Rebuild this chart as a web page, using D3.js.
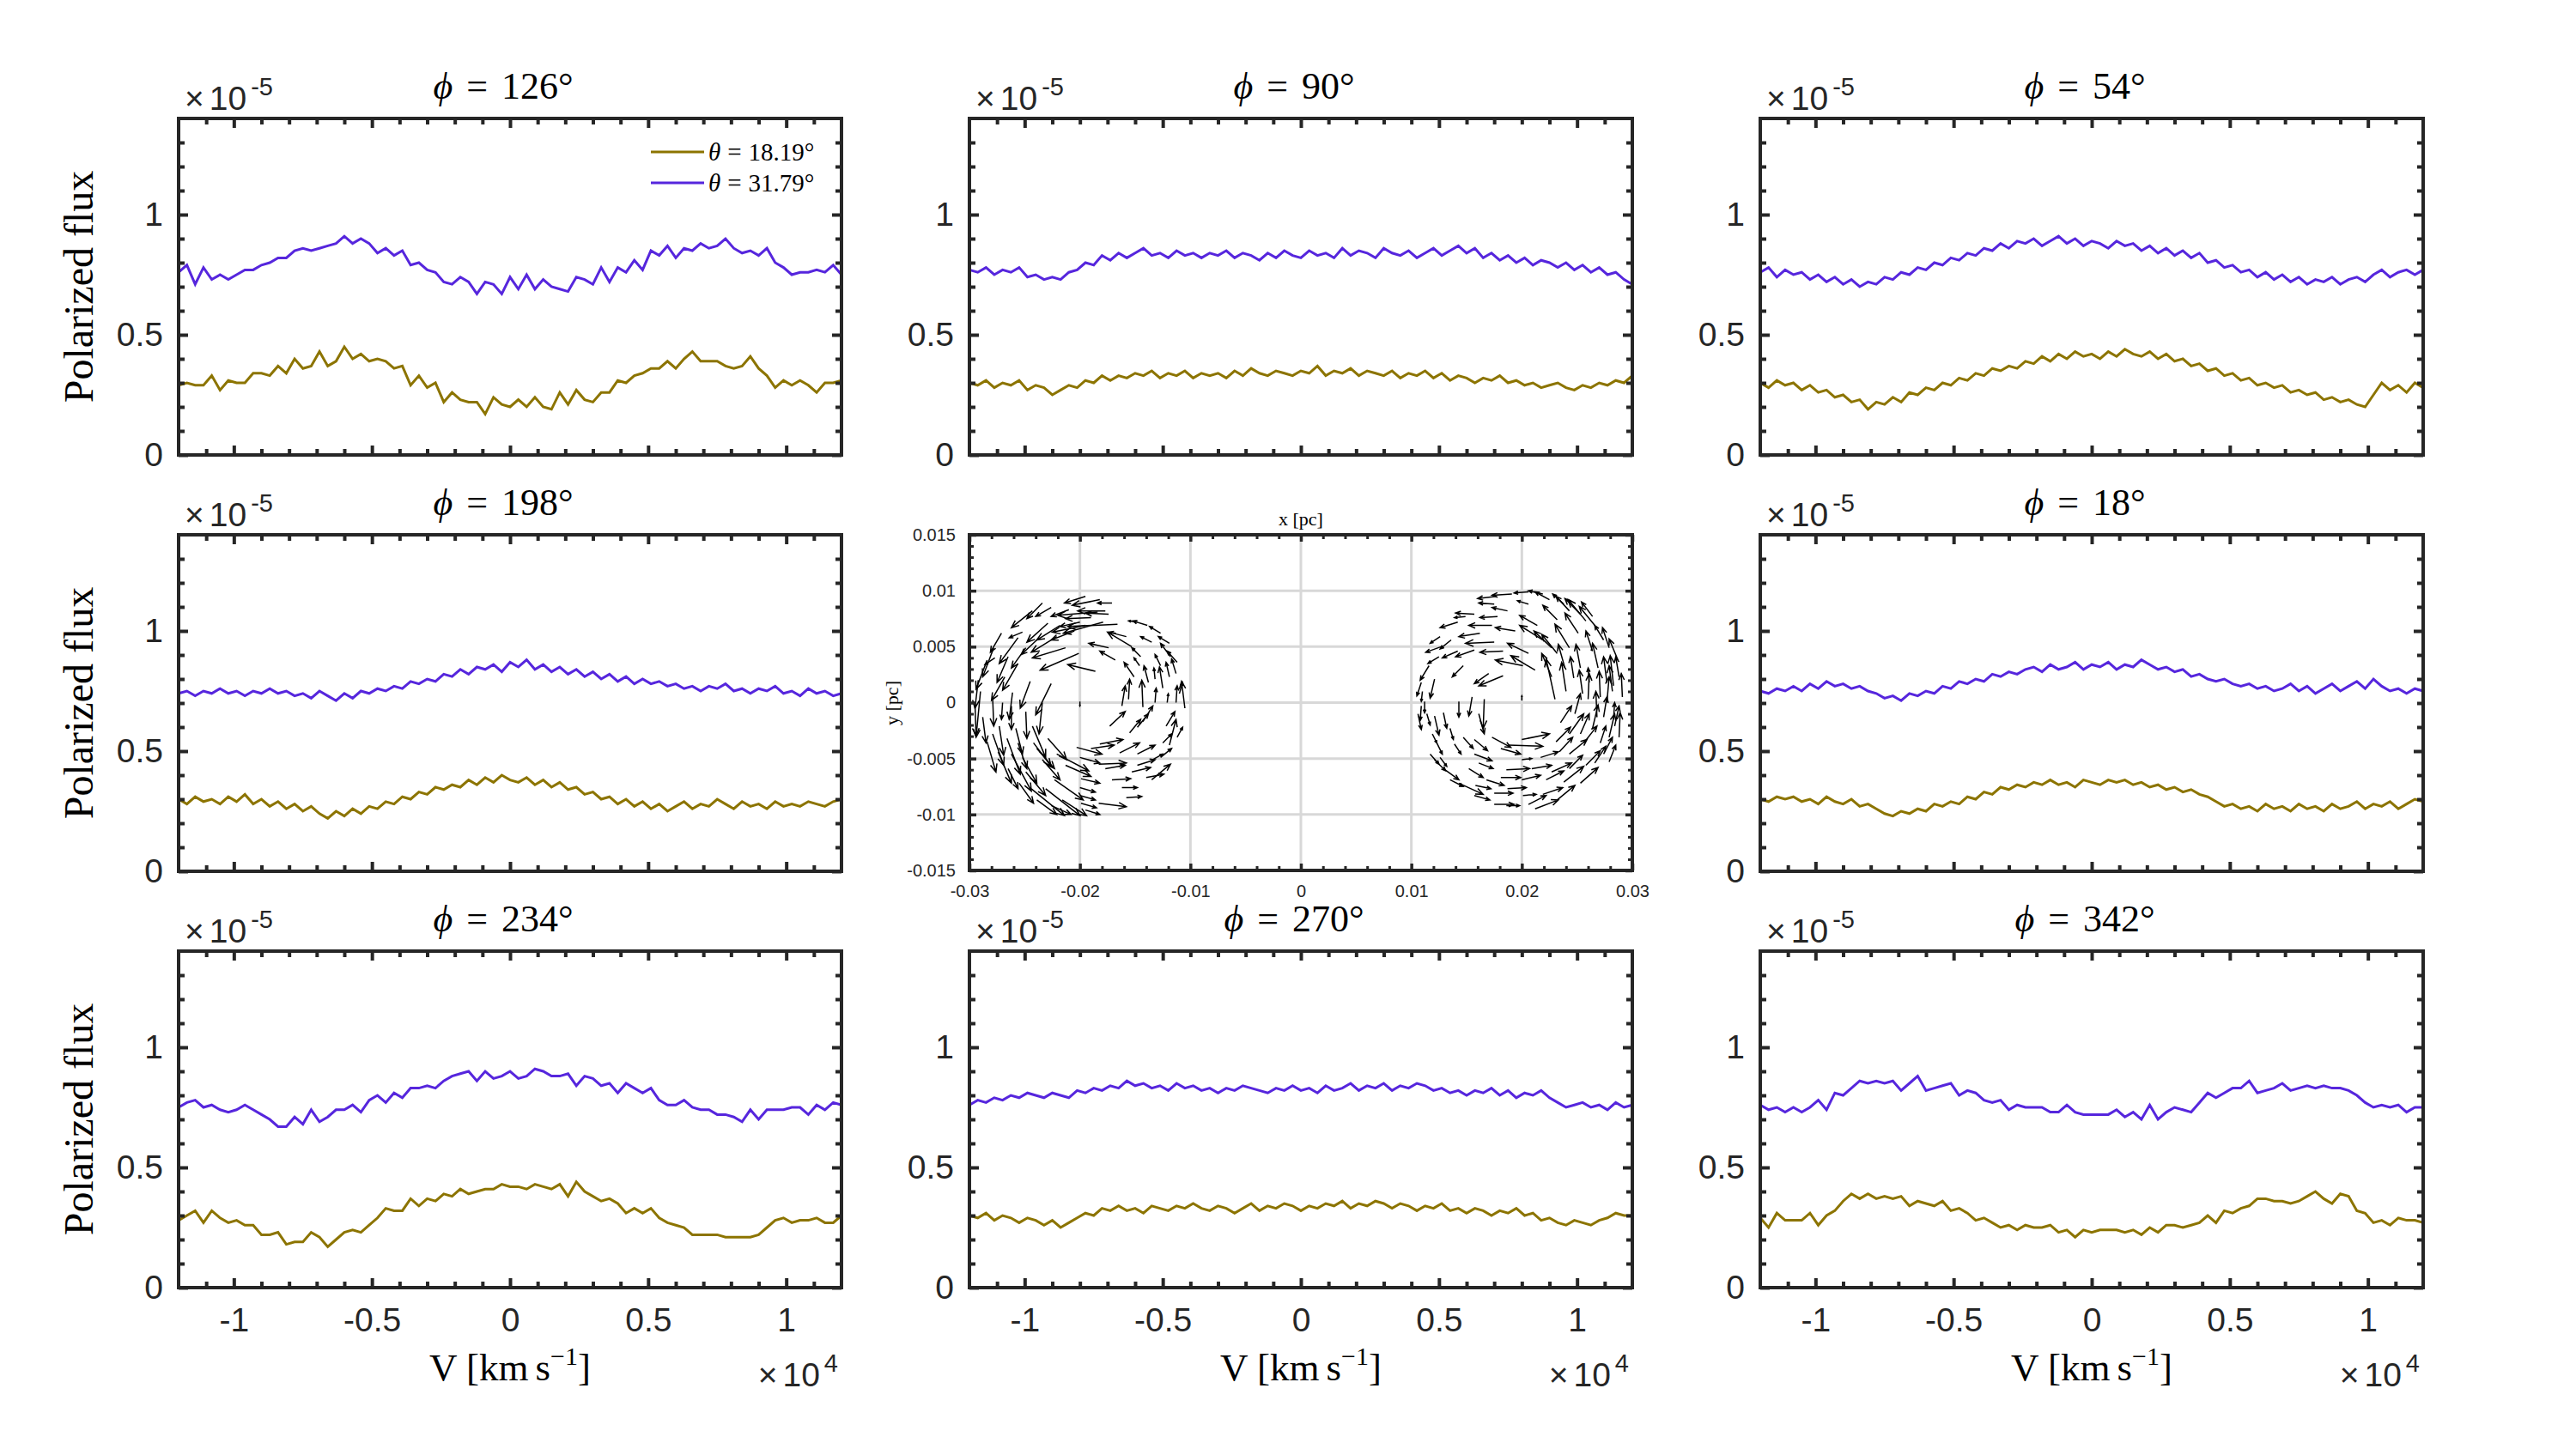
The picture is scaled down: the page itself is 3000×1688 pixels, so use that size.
<!DOCTYPE html>
<html>
<head>
<meta charset="utf-8">
<title>Polarized flux</title>
<script src="https://cdn.jsdelivr.net/npm/d3@7"></script>
<style>
  body { margin: 0; background: #fff; }
  .tex { font-family: "Liberation Serif", "DejaVu Serif", serif; }
</style>
</head>
<body>
<svg id="chart" width="3000" height="1688"></svg>
<script>
// velocity grid (km/s) and polarized flux in units of 1e-7
const velocity = [-12000,-11700,-11400,-11100,-10800,-10500,-10200,-9900,-9600,-9300,-9000,-8700,-8400,-8100,-7800,-7500,-7200,-6900,-6600,-6300,-6000,-5700,-5400,-5100,-4800,-4500,-4200,-3900,-3600,-3300,-3000,-2700,-2400,-2100,-1800,-1500,-1200,-900,-600,-300,0,300,600,900,1200,1500,1800,2100,2400,2700,3000,3300,3600,3900,4200,4500,4800,5100,5400,5700,6000,6300,6600,6900,7200,7500,7800,8100,8400,8700,9000,9300,9600,9900,10200,10500,10800,11100,11400,11700,12000];

const olive126 = [29,30,29,29,33,27,31,30,30,34,34,33,37,34,40,36,37,43,37,39,45,40,42,39,40,39,36,37,29,33,28,30,22,26,23,22,22,17,24,21,20,23,20,24,20,19,26,21,27,23,22,26,26,31,30,33,34,36,36,39,36,40,43,39,39,39,37,36,37,41,36,33,28,31,29,31,29,26,30,30,31];
const purple126 = [76,79,71,78,73,75,73,75,77,77,79,80,82,82,85,86,85,86,87,88,91,88,90,88,84,86,83,85,79,80,77,76,72,71,74,72,67,72,71,67,74,69,75,69,73,70,69,68,74,73,71,78,72,78,76,81,77,85,83,87,82,86,85,88,86,87,90,86,84,85,83,86,80,78,75,76,76,77,76,79,75];
const olive90 = [30,29,31,28,30,29,31,27,29,28,25,27,29,28,31,30,33,31,33,32,34,33,35,32,34,33,35,32,34,33,34,32,35,33,36,34,33,35,34,33,35,34,37,33,35,34,36,33,35,34,33,35,32,34,33,35,32,34,31,33,32,30,32,31,33,30,31,29,30,28,29,30,28,27,29,28,30,29,31,30,33];
const purple90 = [77,76,78,75,77,76,78,74,75,73,74,73,76,77,80,79,83,81,84,82,84,86,83,84,82,85,83,84,82,84,83,85,82,84,83,81,84,82,85,83,82,85,83,84,82,86,83,85,84,82,86,84,83,85,82,84,86,83,85,87,84,86,82,84,81,83,80,82,79,81,80,78,80,77,79,76,78,75,76,73,71];
const olive54 = [30,28,31,29,30,27,29,26,27,24,25,22,23,19,22,21,24,22,26,25,28,27,30,29,32,31,34,33,36,35,37,36,39,38,41,39,42,40,43,41,42,40,43,41,44,42,41,43,40,42,39,40,37,38,35,36,33,34,31,32,29,30,28,29,26,27,25,26,23,24,22,23,21,20,25,30,27,29,26,30,28];
const purple54 = [76,78,74,77,75,76,73,75,72,74,71,73,70,72,71,74,73,76,75,78,77,80,79,82,81,84,83,86,85,88,86,89,88,90,87,89,91,88,90,87,89,88,86,89,87,88,85,87,84,86,83,85,82,84,80,81,78,79,76,77,74,76,73,75,72,74,71,73,72,74,71,73,74,72,75,77,74,76,77,75,77];
const olive198 = [30,28,31,29,30,28,31,29,32,28,30,27,29,26,28,25,27,24,22,25,23,26,24,27,26,29,28,31,30,33,32,35,34,36,35,38,36,39,37,40,38,37,39,36,38,35,37,34,35,32,33,30,31,28,30,27,29,26,28,25,27,29,26,28,27,30,28,26,29,27,28,26,29,27,28,27,29,28,27,29,30];
const purple198 = [74,75,73,75,74,76,74,75,73,75,74,76,74,75,73,74,72,75,73,71,74,72,75,74,76,75,77,76,79,78,80,79,82,81,84,82,85,84,86,83,87,85,88,84,86,83,85,82,84,81,83,80,82,79,81,78,80,78,79,77,78,76,77,75,77,76,78,75,76,74,76,75,77,74,75,73,76,74,75,73,74];
const olive18 = [30,29,31,30,31,29,30,28,31,29,28,30,27,28,26,24,23,25,24,26,25,28,27,29,28,31,30,33,32,35,34,36,35,37,36,38,36,37,35,38,37,36,38,37,38,36,37,35,36,34,35,33,34,32,31,29,27,28,26,27,25,28,26,27,25,28,26,27,25,28,26,27,29,26,28,27,29,26,28,30,29];
const purple18 = [75,74,76,75,77,75,78,76,79,77,78,76,77,75,74,72,73,71,74,73,75,74,77,76,79,78,80,79,82,81,83,82,84,85,83,86,84,85,87,84,86,85,87,84,86,85,88,86,84,85,83,84,81,82,80,79,80,78,77,78,76,77,75,76,78,75,77,74,76,78,75,77,79,76,80,77,75,76,74,76,75];
const olive234 = [28,30,32,27,32,29,27,28,26,26,22,22,23,18,19,19,23,21,17,20,23,24,23,26,29,33,32,32,37,34,37,36,39,38,41,39,40,41,41,43,42,42,41,43,42,41,43,38,44,40,38,36,37,35,31,33,31,33,29,27,26,25,22,22,22,22,21,21,21,21,22,25,28,29,27,28,28,29,27,27,30];
const purple234 = [75,77,78,75,76,74,73,74,76,74,72,70,67,67,71,68,74,69,71,74,74,76,73,78,80,77,81,79,83,83,84,83,86,88,89,90,86,90,87,88,90,87,88,91,90,88,88,89,84,88,87,84,85,81,85,83,81,83,78,76,76,78,75,74,74,72,72,71,69,74,70,74,74,74,75,75,72,76,74,77,76];
const olive270 = [30,29,31,28,30,29,27,29,28,26,28,25,27,29,31,30,33,32,34,32,33,31,34,33,32,34,33,35,33,32,34,33,31,33,35,32,34,33,35,34,32,34,33,35,34,36,33,35,34,36,35,33,35,34,32,34,33,35,32,33,31,33,32,30,32,31,33,30,31,28,29,27,26,28,27,26,28,29,31,30,30];
const purple270 = [76,78,77,79,78,80,79,81,80,79,81,80,79,82,81,83,82,84,83,86,84,85,83,84,82,85,83,84,82,83,81,83,82,84,83,82,81,83,82,84,82,83,81,84,82,83,85,82,84,83,85,82,84,83,85,84,82,83,81,82,80,82,81,83,80,82,79,81,80,82,79,77,75,76,77,75,76,74,77,75,76];
const olive342 = [29,25,31,28,28,28,31,26,30,32,36,39,37,39,37,38,37,38,34,36,35,34,36,32,33,31,28,29,27,25,26,24,26,25,25,26,23,24,21,24,23,24,24,24,23,24,22,25,23,26,26,25,26,27,30,27,32,31,33,34,37,37,36,36,35,36,38,40,37,35,39,38,32,31,27,28,26,29,28,28,27];
const purple342 = [76,74,75,73,75,73,75,78,74,81,80,83,86,85,86,85,86,82,85,88,82,83,84,85,80,82,81,78,77,78,74,76,75,75,75,73,73,76,73,72,72,72,72,74,71,73,70,76,70,73,75,74,73,77,81,79,81,83,83,86,81,82,83,85,82,83,84,83,84,83,83,82,80,77,75,76,75,76,73,75,75];

const thetaLabels = ["18.19", "31.79"];
const xTickValues = [-10000, -5000, 0, 5000, 10000];
const xTickLabels = ["-1", "-0.5", "0", "0.5", "1"];
const yTickValues = [0, 0.5, 1];
const yTickLabels = ["0", "0.5", "1"];

// velocity arrows in the centre panel, [x, y, u, v] in 1e-3 pc
const vortexLeft = [
[-19.5,9.5,-1.9,-0.6],[-18.2,9.2,-2.5,-0.5],[-17.1,8.9,-1.3,0],[-17.7,8.2,-2.5,0],[-18.4,8.1,-3.6,-0.3],[-17.4,7.9,-2.1,0.1],[-23.4,8.9,-1.4,-1.4],[-22.6,8.5,-1.4,-0.8],[-24.3,8.2,-1.9,-1.5],[-16.6,7.0,-4.5,-0.2],
[-17.9,7.2,-3.6,-1.0],[-19.5,6.9,-3.0,-0.6],[-14.8,7.2,-0.8,0.1],[-13.9,6.9,-1.3,0.4],[-12.7,6.2,-1.0,0.6],[-11.9,5.3,-1.0,0.6],[-15.3,5.0,-2.2,1.3],[-15.8,5.9,-1.6,0.4],[-17.4,4.9,-1.8,0.4],[-16.8,3.8,-1.4,0.8],
[-18.6,2.8,-2.5,0.6],[-20.1,4.4,-3.5,-1.5],[-21.3,4.9,-3.0,-0.9],[-22.1,5.9,-2.3,-1.4],[-22.9,7.1,-1.9,-1.7],[-25.2,6.3,-1.2,-0.5],[-27.1,6.2,-1.0,-1.7],[-25.6,5.8,-1.7,-2.3],[-27.7,4.0,-0.9,-0.6],[-28.4,3.8,-1.0,-2.6],
[-25.6,3.5,-1.4,-2.4],[-26.8,2.3,-1.2,-2.1],[-24.5,1.9,-0.9,-2.4],[-22.6,1.7,-1.4,-2.8],[-23.4,0,-0.3,-2.8],[-29.0,1.0,-0.4,-4.1],[-27.9,0.5,0.1,-2.6],[-27.0,0,-0.1,-1.5],[-26.2,-0.3,0,-2.1],[-24.9,-0.8,0.1,-2.4],
[-26.1,0.9,-0.3,-2.4],[-28.4,-3.5,0.8,-2.7],[-27.9,-2.8,1.0,-2.8],[-27.4,-4.4,1.2,-2.8],[-26.6,-3.2,1.2,-3.2],[-26.2,-4.6,1.8,-3.3],[-25.8,-2.3,0.6,-2.3],[-24.3,-2.1,1.2,-2.8],[-24.2,-3.6,1.6,-2.1],[-22.9,-3.2,1.7,-1.9],
[-23.4,-5.1,1.6,-1.8],[-24.9,-6.2,1.8,-2.1],[-24.4,-7.7,3.0,-2.4],[-23.1,-7.7,3.1,-2.4],[-22.3,-6.9,2.6,-1.8],[-21.6,-8.7,2.2,-1.4],[-21.3,-5.6,2.3,-1.0],[-22.1,-4.6,2.9,-1.5],[-20.3,-4.0,2.3,-0.6],[-20.0,-4.9,1.8,-0.5],
[-19.9,-6.8,1.7,-0.4],[-20.0,-7.6,1.4,-0.4],[-20.0,-8.3,1.4,-0.4],[-19.9,-9.0,1.4,-0.4],[-19.5,-9.6,1.3,-0.4],[-18.3,-9.0,2.5,-0.3],[-18.2,-3.7,2.1,0.4],[-18.3,-5.5,2.5,0.1],[-17.1,-6.9,1.7,0.1],[-16.2,-7.6,1.4,0],
[-15.8,-8.5,1.4,0.1],[-16.4,-4.5,1.8,0.9],[-15.3,-6.2,1.7,0.4],[-14.8,-4.6,1.6,0.8],[-14.0,-6.7,1.6,0.3],[-13.5,-6.9,1.7,1.4],[-13.4,-5.1,0.9,0.5],[-12.5,-3.6,0.8,0.8],[-11.9,-3.8,0.6,2.3],[-11.2,-3.1,0.5,0.9],
[-17.3,-2.1,1.4,1.3],[-15.5,-2.7,1.0,1.2],[-14.8,-2.2,1.0,1.2],[-14.3,-1.7,0.9,1.4],[-16.2,-0.3,0.3,1.8],[-15.6,0.3,0.1,1.8],[-14.3,-0.4,-0.1,2.4],[-13.2,0,0.1,1.3],[-12.1,0,0.1,0.8],[-10.5,-0.5,-0.3,2.4],
[-11.0,0.8,0.3,1.0],[-12.5,1.3,-0.3,1.9],[-13.8,1.8,-0.4,1.5],[-13.2,2.1,-0.1,1.0],[-11.3,2.6,-0.4,1.3],[-11.9,2.3,-0.3,1.3],[-15.1,2.3,-0.9,1.3],[-14.6,3.3,-0.5,0.7],[-11.2,3.6,-0.9,1.0],[-11.8,4.1,-0.9,1.2],
[-29.5,0.0,0.1,-3.0],[-29.2,2.0,-0.3,-2.5],[-20.0,7.2,-1.8,-0.4],[-20.0,0.1,0,-0.4],
[-27.8,4.9,-1.0,-2.6],[-26.5,4.1,-1.0,-2.3],[-24.9,4.9,-1.3,-1.8],[-23.9,5.6,-1.4,-1.3],[-21.8,6.9,-2.1,-1.3],[-21.0,8.3,-1.6,-0.6],[-19.0,7.6,-2.3,-0.1],[-20.5,6.4,-2.1,-0.8],[-28.8,-1.3,0.3,-2.3],[-27.3,-2.1,0.4,-2.6],
[-25.6,-3.6,0.8,-2.3],[-26.5,-5.9,0.9,-1.8],[-25.5,-7.2,1.3,-1.8],[-23.9,-8.7,1.8,-1.3],[-22.6,-9.2,1.8,-0.8],[-25.2,-4.9,1.3,-2.3],[-23.9,-4.1,1.6,-1.8],[-19.0,-4.1,2.1,0.3],[-17.7,-5.9,1.8,0.3],[-14.8,-5.6,1.6,0.5],
[-12.7,-4.9,1.0,0.8],[-12.2,-2.1,0.8,1.3],[-11.3,0,0.1,1.5],[-14.5,4.1,-0.8,0.8],[-12.7,3.3,-0.5,1.0],[-13.5,5.4,-1.0,0.5]
];
const vortexRight = [
[17.7,9.5,-1.7,-0.2],[19.1,9.7,-1.8,-0.1],[20.6,9.9,-1.3,-0.1],[21.9,9.7,-1.3,0.3],[17.5,8.8,-1.4,0.1],[18.7,8.2,-1.4,0.3],[20.6,8.8,-1.0,0.3],[22.5,9.2,-1.3,0.7],[23.8,8.8,-1.0,0.9],[24.3,8.2,-1.2,1.3],
[25.3,7.9,-1.4,1.4],[25.8,7.3,-1.6,1.9],[26.6,6.9,-1.4,1.7],[27.4,5.6,-0.8,1.3],[28.7,3.8,-0.8,1.9],[29.1,0.5,-0.1,2.1],[28.3,1.5,-0.3,2.7],[27.7,1.8,-0.3,2.3],[26.9,3.1,-0.5,2.2],[26.1,1.8,-0.1,1.3],
[26.0,0.3,0.1,2.3],[25.5,0.8,-0.3,2.1],[24.7,2.2,-0.3,1.9],[24.0,1.0,-0.4,2.6],[23.0,0.3,-0.8,3.6],[22.7,2.3,-0.9,2.1],[23.2,4.4,-1.4,1.7],[24.3,4.9,-1.3,2.1],[22.7,4.9,-1.6,1.5],[21.9,5.6,-2.1,1.3],
[20.6,4.4,-1.9,0.9],[21.2,2.9,-2.2,1.3],[20.1,3.3,-2.5,0.5],[18.3,4.6,-2.1,-0.1],[17.5,5.4,-2.6,-0.1],[17.3,6.9,-2.1,0],[16.2,6.2,-1.9,-0.3],[15.7,7.9,-1.7,0.1],[14.2,7.2,-1.6,-0.5],[15.7,4.7,-1.7,-0.6],
[14.2,4.6,-1.4,-0.6],[12.6,5.9,-0.9,-0.6],[12.7,5.0,-1.4,-0.5],[12.5,4.1,-1.0,-0.6],[11.6,3.3,-0.8,-1.3],[12.1,2.1,-0.4,-1.7],[10.9,1.8,-0.4,-1.2],[11.0,1.0,-0.1,-0.9],[14.7,3.3,-1.0,-1.0],[17.0,2.6,-1.3,-0.9],
[18.3,2.4,-2.2,-0.9],[11.2,0.1,0,-1.0],[10.6,-1.0,0.3,-1.4],[11.4,-1.0,0.3,-1.0],[12.1,-1.2,0.4,-1.7],[12.9,-0.9,0.3,-1.4],[13.5,-2.3,0.3,-1.0],[14.3,0.1,0,-1.4],[15.5,0.5,-0.3,-1.7],[16.6,0.3,-0.1,-2.6],
[16.1,-1.0,0.5,-1.8],[11.7,-4.6,0.8,-0.9],[11.9,-2.8,0.4,-0.8],[12.6,-4.9,0.6,-0.8],[13.9,-3.7,0.6,-0.9],[14.7,-3.1,0.9,-1.0],[15.7,-3.3,1.2,-1.0],[12.9,-5.9,1.4,-1.0],[13.5,-6.9,1.2,-0.6],[14.3,-7.2,2.2,-1.0],
[15.8,-7.4,1.4,-0.3],[15.7,-8.3,1.4,-0.4],[15.7,-4.6,1.6,-0.6],[16.1,-5.4,1.3,-0.5],[17.3,-3.1,1.7,-0.9],[18.1,-4.1,1.8,-0.5],[18.6,-6.0,2.1,0.1],[18.1,-6.7,1.8,0],[17.5,-8.1,1.7,0],[17.5,-9.1,1.8,0],
[18.6,-9.2,1.2,0],[18.7,-7.7,1.7,0.1],[20.0,-6.9,1.7,0.4],[20.0,-3.3,2.5,0.5],[18.8,-3.8,3.1,-0.1],[20.0,-5.1,0.9,0.1],[20.1,-8.3,1.2,0.1],[20.6,-9.1,1.6,0.8],[21.2,-9.5,2.1,0.8],[21.9,-8.2,1.8,0.6],
[23.2,-8.7,1.6,1.3],[23.8,-7.1,1.8,1.4],[24.3,-5.9,1.2,1.2],[25.3,-7.2,1.6,1.4],[26.6,-5.4,1.0,1.5],[27.9,-5.3,0.6,1.5],[23.4,-4.4,1.2,1.3],[23.1,-3.5,1.3,1.3],[23.5,-1.8,1.0,1.5],[24.3,-2.8,1.3,1.8],
[25.3,-2.8,0.8,1.8],[26.4,-2.3,0.5,2.1],[27.4,-1.3,0.3,1.8],[28.3,-1.5,0.1,1.5],[28.8,-3.1,0.1,2.2],[26.8,-1.3,-0.1,2.3],[28.2,1.0,-0.3,2.3],[20.9,-5.9,1.8,0.3],[22.2,-6.9,1.6,0.8],[20.0,0.2,0,0.4],
[27.7,0.0,0.2,2.3],[27.9,-3.1,0.5,2.1],[27.1,-3.6,0.5,1.5],
[26.4,7.7,-1.0,1.3],[27.9,4.9,-0.6,1.8],[28.8,2.3,-0.3,1.8],[27.1,0.5,-0.1,2.3],[25.3,3.1,-0.4,2.1],[23.9,3.1,-0.6,2.1],[26.4,4.6,-0.6,1.8],[25.1,6.2,-1.2,1.8],[23.2,7.4,-1.3,1.3],[21.4,6.9,-1.6,0.9],
[19.4,6.4,-1.8,0.3],[17.8,7.7,-1.6,-0.1],[14.9,7.7,-1.0,-0.1],[13.6,5.6,-1.0,-0.8],[10.9,-0.3,-0.1,-1.3],[12.3,-3.6,0.5,-1.0],[12.1,-5.1,1.0,-1.0],[15.2,-5.9,1.3,-0.8],[16.8,-6.9,1.6,-0.5],[21.7,-4.9,1.6,0.5],
[22.7,-6.2,1.8,0.8],[24.3,-4.6,1.6,1.3],[25.6,-3.6,1.2,1.5],[25.8,-5.6,1.3,1.3],[27.4,-4.6,0.8,1.5],[28.4,-2.1,0.4,1.8],[24.8,-1.0,0.5,1.8]
];
const qxTickValues = [-0.03, -0.02, -0.01, 0, 0.01, 0.02, 0.03];
const qxTickLabels = ["-0.03", "-0.02", "-0.01", "0", "0.01", "0.02", "0.03"];
const qyTickValues = [-0.015, -0.01, -0.005, 0, 0.005, 0.01, 0.015];
const qyTickLabels = ["-0.015", "-0.01", "-0.005", "0", "0.005", "0.01", "0.015"];

const panels = [
  { phi: "126", row: 0, col: 0, lo: olive126, hi: purple126 },
  { phi: "90",  row: 0, col: 1, lo: olive90,  hi: purple90 },
  { phi: "54",  row: 0, col: 2, lo: olive54,  hi: purple54 },
  { phi: "198", row: 1, col: 0, lo: olive198, hi: purple198 },
  { phi: "18",  row: 1, col: 2, lo: olive18,  hi: purple18 },
  { phi: "234", row: 2, col: 0, lo: olive234, hi: purple234 },
  { phi: "270", row: 2, col: 1, lo: olive270, hi: purple270 },
  { phi: "342", row: 2, col: 2, lo: olive342, hi: purple342 }
];

const svg = d3.select("#chart");
const W = 772, H = 392;
const colX = [208, 1129, 2050], rowY = [138, 623, 1108];
const axisColor = "#262626", oliveColor = "#8c7400", purpleColor = "#5626dd";
const sans = "Liberation Sans, Arial, sans-serif";

const x = d3.scaleLinear().domain([-12000, 12000]).range([0, W]);
const y = d3.scaleLinear().domain([0, 1.4]).range([H, 0]);
const line = d3.line().x((d, i) => x(velocity[i])).y(d => y(d / 100));

const xMinor = d3.range(-11000, 11001, 1000).filter(v => v % 5000 !== 0);
const yMinor = d3.range(1, 14).filter(k => k % 5 !== 0).map(k => k / 10);

// inward ticks; labels optional
function ticks(g, orient, scale, values, size, width, labels, pad, fontSize, shift) {
  const axis = d3[orient](scale).tickValues(values).tickSize(-size).tickPadding(pad)
    .tickFormat(labels ? (d, i) => labels[i] : "");
  const a = g.append("g").attr("transform", shift || null).call(axis);
  a.attr("font-family", sans).attr("font-size", fontSize);
  a.select(".domain").remove();
  a.selectAll(".tick line").attr("stroke", axisColor).attr("stroke-width", width);
  a.selectAll(".tick text").attr("fill", axisColor);
  return a;
}

// "x10^n" label
function exponent(g, xPos, yPos, anchor, power) {
  const e = g.append("text").attr("x", xPos).attr("y", yPos).attr("text-anchor", anchor)
    .attr("font-family", sans).attr("font-size", 39).attr("fill", axisColor);
  e.append("tspan").text("\u00d7");
  e.append("tspan").attr("dx", 6).text("10");
  e.append("tspan").attr("dx", 5).attr("dy", -17).attr("font-size", 29).text(power);
}

// ---------------------- line panels
panels.forEach(p => {
  const g = svg.append("g").attr("transform", `translate(${colX[p.col]},${rowY[p.row]})`);
  const bottomRow = p.row === 2;

  g.append("path").datum(p.lo).attr("d", line)
    .attr("fill", "none").attr("stroke", oliveColor).attr("stroke-width", 3);
  g.append("path").datum(p.hi).attr("d", line)
    .attr("fill", "none").attr("stroke", purpleColor).attr("stroke-width", 3);

  ticks(g, "axisBottom", x, xMinor, 7, 4, null, 0, 39, `translate(0,${H})`);
  ticks(g, "axisTop", x, xMinor, 7, 4, null, 0, 39);
  ticks(g, "axisBottom", x, xTickValues, 11, 4, bottomRow ? xTickLabels : null, 23, 39, `translate(0,${H})`);
  ticks(g, "axisTop", x, xTickValues, 11, 4, null, 0, 39);
  ticks(g, "axisLeft", y, yMinor, 7, 4, null, 0, 39);
  ticks(g, "axisRight", y, yMinor, 7, 4, null, 0, 39, `translate(${W},0)`);
  ticks(g, "axisLeft", y, yTickValues, 11, 4, yTickLabels, 18, 39);
  ticks(g, "axisRight", y, yTickValues, 11, 4, null, 0, 39, `translate(${W},0)`);

  g.append("rect").attr("width", W).attr("height", H)
    .attr("fill", "none").attr("stroke", axisColor).attr("stroke-width", 4);

  // title
  const t = g.append("text").attr("class", "tex").attr("x", W / 2 - 8).attr("y", -23)
    .attr("text-anchor", "middle").attr("font-size", 44);
  t.append("tspan").attr("font-style", "italic").text("\u03d5");
  t.append("tspan").attr("dx", 16).text("=");
  t.append("tspan").attr("dx", 16).text(`${p.phi}\u00b0`);

  exponent(g, 7, -10, "start", "-5");

  if (p.col === 0) {
    g.append("text").attr("class", "tex")
      .attr("transform", `translate(-100,${H / 2}) rotate(-90)`)
      .attr("text-anchor", "middle").attr("font-size", 48).text("Polarized flux");
  }

  if (bottomRow) {
    const xl = g.append("text").attr("class", "tex").attr("x", W / 2).attr("y", H + 108)
      .attr("text-anchor", "middle").attr("font-size", 45);
    xl.append("tspan").text("V [km");
    xl.append("tspan").attr("dx", 8).text("s");
    xl.append("tspan").attr("dy", -18).attr("font-size", 30).text("\u22121");
    xl.append("tspan").attr("dy", 18).text("]");

    exponent(g, W - 4, H + 115, "end", "4");
  }

  // legend only in the first panel
  if (p.phi === "126") {
    const lg = g.append("g").attr("transform", "translate(550,39)");
    [oliveColor, purpleColor].forEach((c, i) => {
      lg.append("line").attr("x1", 0).attr("x2", 62).attr("y1", i * 36).attr("y2", i * 36)
        .attr("stroke", c).attr("stroke-width", 3);
      const lt = lg.append("text").attr("class", "tex").attr("x", 67).attr("y", i * 36 + 10)
        .attr("font-size", 29);
      lt.append("tspan").attr("font-style", "italic").text("\u03b8");
      lt.append("tspan").attr("dx", 8).text("=");
      lt.append("tspan").attr("dx", 8).text(`${thetaLabels[i]}\u00b0`);
    });
  }
});

// ---------------------- centre velocity map
const q = svg.append("g").attr("transform", `translate(${colX[1]},${rowY[1]})`);
const qx = d3.scaleLinear().domain([-0.03, 0.03]).range([0, W]);
const qy = d3.scaleLinear().domain([-0.015, 0.015]).range([H - 1, 0]);

const gridX = qxTickValues.slice(1, -1), gridY = qyTickValues.slice(1, -1);
q.selectAll(".gx").data(gridX).join("line").attr("class", "gx")
  .attr("x1", d => qx(d)).attr("x2", d => qx(d)).attr("y1", 0).attr("y2", H - 1)
  .attr("stroke", "#d8d8d8").attr("stroke-width", 3);
q.selectAll(".gy").data(gridY).join("line").attr("class", "gy")
  .attr("x1", 0).attr("x2", W).attr("y1", d => qy(d)).attr("y2", d => qy(d))
  .attr("stroke", "#d8d8d8").attr("stroke-width", 3);

function arrowPath(d) {
  const x0 = qx(d[0] / 1000), y0 = qy(d[1] / 1000);
  const x1 = qx((d[0] + d[2]) / 1000), y1 = qy((d[1] + d[3]) / 1000);
  const len = Math.hypot(x1 - x0, y1 - y0), a = Math.atan2(y1 - y0, x1 - x0);
  const h = Math.min(0.3 * len, 10), s = 0.4;
  return `M${x0},${y0}L${x1},${y1}` +
    `M${x1 - h * Math.cos(a - s)},${y1 - h * Math.sin(a - s)}L${x1},${y1}` +
    `L${x1 - h * Math.cos(a + s)},${y1 - h * Math.sin(a + s)}`;
}
q.append("g").selectAll("path").data(vortexLeft.concat(vortexRight)).join("path")
  .attr("d", arrowPath).attr("fill", "none").attr("stroke", "#000").attr("stroke-width", 1.5);

const qxMinor = d3.range(-14, 15).filter(k => k % 5 !== 0).map(k => k * 0.002);
const qyMinor = d3.range(-14, 15).filter(k => k % 5 !== 0).map(k => k * 0.001);
ticks(q, "axisBottom", qx, qxMinor, 5, 3, null, 0, 20, `translate(0,${H - 1})`);
ticks(q, "axisTop", qx, qxMinor, 5, 3, null, 0, 20);
ticks(q, "axisBottom", qx, qxTickValues, 8, 3.5, qxTickLabels, 17, 20, `translate(0,${H - 1})`);
ticks(q, "axisTop", qx, qxTickValues, 8, 3.5, null, 0, 20);
ticks(q, "axisLeft", qy, qyMinor, 5, 3, null, 0, 20);
ticks(q, "axisRight", qy, qyMinor, 5, 3, null, 0, 20, `translate(${W},0)`);
ticks(q, "axisLeft", qy, qyTickValues, 8, 3.5, qyTickLabels, 16, 20);
ticks(q, "axisRight", qy, qyTickValues, 8, 3.5, null, 0, 20, `translate(${W},0)`);

q.append("rect").attr("width", W).attr("height", H - 1)
  .attr("fill", "none").attr("stroke", axisColor).attr("stroke-width", 4);

q.append("text").attr("class", "tex").attr("x", W / 2).attr("y", -11)
  .attr("text-anchor", "middle").attr("font-size", 22).text("x [pc]");
q.append("text").attr("class", "tex")
  .attr("transform", `translate(-83,${H / 2}) rotate(-90)`)
  .attr("text-anchor", "middle").attr("font-size", 22).text("y [pc]");
</script>
</body>
</html>
